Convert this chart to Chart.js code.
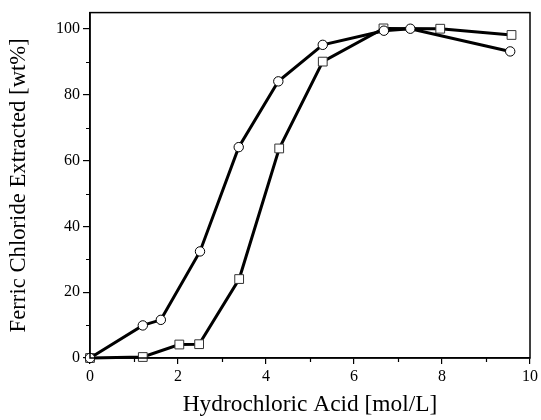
<!DOCTYPE html>
<html>
<head>
<meta charset="utf-8">
<script src="https://cdn.jsdelivr.net/npm/chart.js@4/dist/chart.umd.min.js"></script>
<style>
  html, body { margin: 0; padding: 0; background: #fff; }
  #wrap { width: 541px; height: 420px; }
</style>
</head>
<body>
<div id="wrap"><canvas id="c" width="541" height="420"></canvas></div>
<script>
// ---- data ----
const circleX = [0, 1.2, 1.61, 2.5, 3.38, 4.28, 5.29, 6.68, 7.28, 9.55];
const circleY = [0, 9.9, 11.6, 32.4, 64.1, 84.1, 95.2, 99.5, 100.1, 93.2];
const squareX = [0, 1.2, 2.03, 2.48, 3.39, 4.3, 5.29, 6.67, 7.96, 9.58];
const squareY = [0, 0.3, 4.1, 4.2, 24.0, 63.7, 90.1, 100.2, 100.1, 98.2];
const xTickValues = [0, 2, 4, 6, 8, 10];
const yTickValues = [0, 20, 40, 60, 80, 100];
const xMinorTicks = [1, 3, 5, 7, 9];
const yMinorTicks = [10, 30, 50, 70, 90];
const xTitle = 'Hydrochloric Acid [mol/L]';
const yTitle = 'Ferric Chloride Extracted [wt%]';

const toPts = (xs, ys) => xs.map((x, i) => ({ x: x, y: ys[i] }));

const framePlugin = {
  id: 'frame',
  afterDraw(chart) {
    const { ctx, chartArea: a, scales } = chart;
    ctx.save();
    ctx.strokeStyle = '#000';
    ctx.lineWidth = 1.5;
    ctx.strokeRect(a.left, a.top, a.right - a.left, a.bottom - a.top);
    ctx.lineWidth = 1.2;
    ctx.beginPath();
    xMinorTicks.forEach(v => {
      const px = Math.round(scales.x.getPixelForValue(v)) + 0.5;
      ctx.moveTo(px, a.bottom); ctx.lineTo(px, a.bottom + 4);
    });
    yMinorTicks.forEach(v => {
      const py = Math.round(scales.y.getPixelForValue(v)) + 0.5;
      ctx.moveTo(a.left, py); ctx.lineTo(a.left - 4, py);
    });
    ctx.stroke();
    ctx.restore();
  }
};

const serif = "Liberation Serif";

new Chart(document.getElementById('c'), {
  type: 'line',
  data: {
    datasets: [
      {
        data: toPts(circleX, circleY),
        borderColor: '#000',
        borderWidth: 3,
        pointStyle: 'circle',
        pointRadius: 4.7,
        pointBorderWidth: 1,
        pointBorderColor: '#000',
        pointBackgroundColor: '#fff',
        tension: 0,
        clip: false
      },
      {
        data: toPts(squareX, squareY),
        borderColor: '#000',
        borderWidth: 3,
        pointStyle: 'rect',
        pointRadius: 6.2,
        pointBorderWidth: 1,
        pointBorderColor: '#333',
        pointBackgroundColor: '#fff',
        tension: 0,
        clip: false
      }
    ]
  },
  options: {
    responsive: false,
    animation: false,
    devicePixelRatio: 1,
    layout: { padding: { top: 12, right: 10, left: 0, bottom: 0 } },
    plugins: { legend: { display: false }, tooltip: { enabled: false } },
    scales: {
      x: {
        type: 'linear',
        min: 0, max: 10,
        afterBuildTicks: s => { s.ticks = xTickValues.map(v => ({ value: v })); },
        afterFit: s => { s.height = 62; },
        border: { display: true, color: '#000', width: 1.5 },
        grid: { drawOnChartArea: false, drawTicks: true, tickLength: 6, color: '#000', lineWidth: 1.2 },
        ticks: { color: '#000', padding: 3, maxRotation: 0, font: { family: serif, size: 16 } },
        title: { display: true, text: xTitle, color: '#000', padding: { top: 0, bottom: 1.5 }, font: { family: serif, size: 23.4 } }
      },
      y: {
        type: 'linear',
        min: 0, max: 105,
        afterBuildTicks: s => { s.ticks = yTickValues.map(v => ({ value: v })); },
        afterFit: s => { s.width = 90; },
        border: { display: true, color: '#000', width: 1.5 },
        grid: { drawOnChartArea: false, drawTicks: true, tickLength: 7, color: '#000', lineWidth: 1.2 },
        ticks: { color: '#000', padding: 3, font: { family: serif, size: 16 } },
        title: { display: true, text: yTitle, color: '#000', padding: { top: 5.5, bottom: 0 }, font: { family: serif, size: 22.7 } }
      }
    }
  },
  plugins: [framePlugin]
});
</script>
</body>
</html>
